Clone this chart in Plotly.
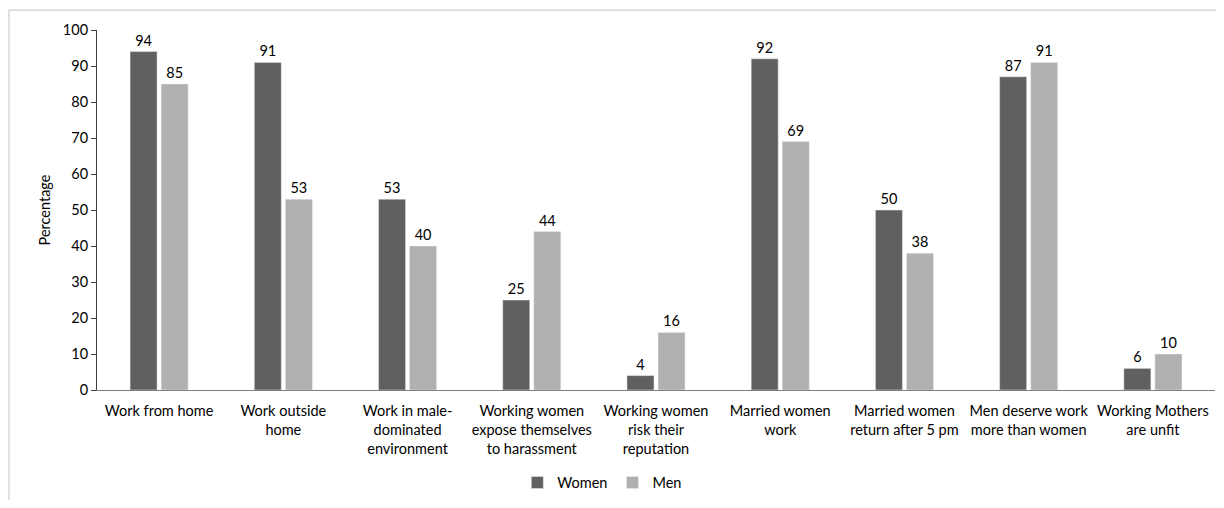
import plotly.graph_objects as go

categories = [
    "Work from home",
    "Work outside<br>home",
    "Work in male-<br>dominated<br>environment",
    "Working women<br>expose themselves<br>to harassment",
    "Working women<br>risk their<br>reputation",
    "Married women<br>work",
    "Married women<br>return after 5 pm",
    "Men deserve work<br>more than women",
    "Working Mothers<br>are unfit",
]
women = [94, 91, 53, 25, 4, 92, 50, 87, 6]
men = [85, 53, 40, 44, 16, 69, 38, 91, 10]
y_ticks = [0, 10, 20, 30, 40, 50, 60, 70, 80, 90, 100]

FONT = "Lato, Noto Sans, sans-serif"
FS = 14.5

fig = go.Figure()
fig.add_trace(go.Bar(
    name="Women", x=categories, y=women, marker_color="#606060",
    text=women, textposition="outside", cliponaxis=False,
    textfont=dict(size=FS, color="#000000"),
))
fig.add_trace(go.Bar(
    name="Men", x=categories, y=men, marker_color="#b0b0b0",
    text=men, textposition="outside", cliponaxis=False,
    textfont=dict(size=FS, color="#000000"),
))

fig.update_layout(
    width=1208, height=492,
    margin=dict(l=89, r=1, t=22, b=108),
    paper_bgcolor="white", plot_bgcolor="white",
    font=dict(family=FONT, size=FS, color="#000000"),
    barmode="group", bargap=0.5, bargroupgap=0.13,
    showlegend=True,
    legend=dict(orientation="h", x=0.452, xanchor="center", y=-0.257, yanchor="middle",
                font=dict(size=FS), traceorder="normal"),
    xaxis=dict(showline=True, linecolor="#7f7f7f", linewidth=1, ticks="",
               tickfont=dict(size=FS), showgrid=False, ticklabelstandoff=8),
    yaxis=dict(range=[0, 100], tickvals=y_ticks, showline=True, linecolor="#404040",
               linewidth=1, ticks="outside", ticklen=5, tickcolor="#404040",
               showgrid=False, zeroline=False, tickfont=dict(size=FS),
               title=dict(text="Percentage", font=dict(size=FS), standoff=8)),
    shapes=[dict(type="rect", xref="paper", yref="paper",
                 x0=-0.0787, x1=1.2, y0=-0.6, y1=1.055,
                 line=dict(color="#d9d9d9", width=1.5))],
)

fig.write_html("out.html")
